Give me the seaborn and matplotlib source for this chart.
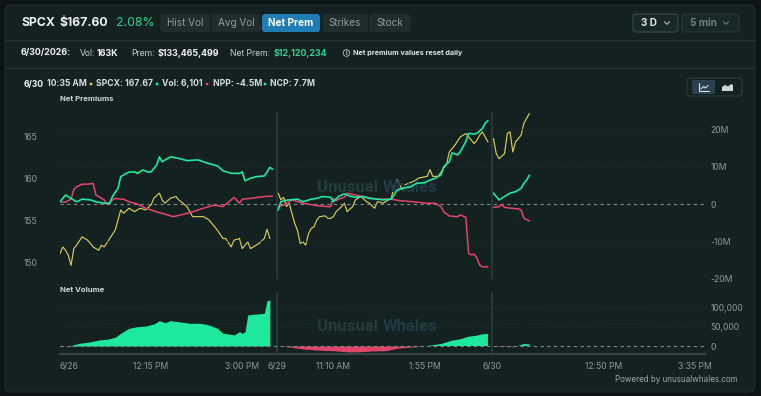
import numpy as np
import pandas as pd
import seaborn as sns
import matplotlib.pyplot as plt
from matplotlib.patches import FancyBboxPatch, Circle
from matplotlib.lines import Line2D
from matplotlib.transforms import IdentityTransform

W, H = 761, 396

# x = 5-minute bar index over the three sessions (6/26, 6/29, 6/30)
tick_pos = [0, 33, 66, 78.5, 99, 132, 156.5, 197, 230]
tick_labels = ["6/26", "12:15 PM", "3:00 PM", "6/29", "11:10 AM", "1:55 PM", "6/30", "12:50 PM", "3:35 PM"]
day_breaks = [78.5, 156.5]

# SPCX price (left axis)
price_x = [0, 1, 2, 3, 4, 5, 6, 8, 10, 12, 14, 15, 16, 18, 20, 22, 23, 25, 27, 29, 31, 33, 34, 36, 37, 38,
           40, 42, 43, 46, 48, 52, 54, 57, 59, 60, 62, 63, 65, 66, 68, 69, 72, 74, 75, 76,
           79, 80, 81, 82, 83, 84, 85, 86, 87, 88, 89, 90, 91, 92, 93, 94, 96, 97, 98, 99, 100, 102, 103,
           104, 106, 107, 109, 111, 112, 114, 115, 117, 118, 120, 121, 122, 124, 125, 128, 130, 133, 134,
           135, 137, 139, 140, 141, 143, 145, 147, 148, 150, 151, 152, 153, 154, 155,
           157, 158, 159, 161, 162, 163, 164, 165, 167, 168, 169, 170]
price = [151.0, 151.8, 151.4, 150.8, 149.6, 151.6, 152.0, 153.0, 152.6, 151.8, 151.4, 152.0, 151.8, 152.8,
         153.8, 156.2, 155.8, 156.4, 156.0, 156.4, 156.2, 156.8, 157.6, 158.2, 157.4, 157.0, 157.6, 157.8,
         157.4, 156.6, 155.4, 155.4, 155.0, 153.8, 152.8, 152.8, 151.8, 152.6, 152.8, 151.6, 152.4, 151.6,
         152.2, 152.8, 153.9, 152.8,
         158.2, 157.4, 157.7, 156.6, 157.0, 155.8, 154.6, 153.8, 152.2, 152.4, 152.0, 153.4, 154.0, 154.2,
         155.0, 155.4, 155.5, 155.2, 155.2, 155.4, 156.0, 156.6, 157.0, 156.0, 156.6, 157.4, 157.8, 157.2,
         157.0, 156.4, 157.2, 157.0, 157.2, 157.6, 159.0, 159.8, 158.6, 159.2, 159.6, 160.0, 160.2, 161.0,
         160.2, 160.2, 161.2, 161.6, 163.1, 163.9, 164.9, 165.3, 164.9, 164.1, 164.5, 165.1, 165.5, 164.9,
         164.3,
         164.7, 162.9, 162.3, 162.9, 165.3, 165.5, 163.1, 164.3, 165.1, 166.5, 167.1, 167.7]

# net call premium, $M (right axis)
ncp_x = [0, 2, 4, 6, 8, 11, 13, 16, 18, 19, 21, 22, 24, 25, 27, 28, 30, 32, 33, 35, 36, 37, 39, 40, 43, 46,
         50, 53, 57, 59, 62, 65, 66, 67, 69, 71, 74, 75, 76, 77,
         79, 80, 81, 83, 86, 88, 91, 93, 95, 98, 99, 101, 103, 105, 107, 110, 112, 115, 117, 120, 121, 122,
         124, 127, 129, 132, 134, 136, 138, 139, 141, 142, 144, 145, 147, 148, 150, 151, 153, 154, 155,
         157, 158, 159, 161, 163, 165, 167, 168, 169, 170]
ncp = [0.6, 2.4, 1.5, 0.6, 1.3, 1.1, 0.6, 0.2, 0.2, 2.0, 4.2, 7.3, 8.2, 8.5, 8.6, 8.2, 9.1, 8.5, 8.6, 10.4,
       12.6, 11.3, 12.2, 12.6, 12.2, 11.6, 11.8, 11.0, 10.2, 8.9, 8.2, 8.2, 8.6, 6.2, 6.9, 7.3, 7.5, 8.6, 9.8, 9.3,
       -1.6, 0.6, 0.9, 1.1, 1.3, 0.6, 1.3, 1.5, 2.0, 1.8, 0.6, 2.1, 2.7, 2.1, 1.8, 2.0, 1.5, 1.3, 1.1, 1.3,
       2.4, 3.7, 4.2, 4.6, 5.5, 5.7, 6.4, 6.9, 7.8, 10.0, 11.3, 13.7, 13.1, 14.0, 16.7, 18.9, 18.7, 18.9,
       20.2, 21.6, 22.3,
       2.9, 2.0, 1.1, 2.0, 2.9, 3.3, 4.2, 5.5, 6.4, 7.7]

# net put premium, $M (right axis)
npp_x = [0, 2, 4, 5, 6, 8, 10, 12, 13, 14, 16, 17, 19, 20, 22, 23, 25, 28, 31, 35, 38, 41, 45, 48, 52, 56,
         59, 62, 63, 65, 66, 69, 72, 74, 77,
         79, 81, 84, 88, 92, 94, 97, 98, 99, 100, 101, 103, 104, 107, 111, 115, 120, 123, 128, 133, 136, 138,
         139, 141, 144, 145, 147, 148, 149, 150, 151, 152, 153, 155,
         157, 159, 160, 161, 163, 166, 167, 168, 170]
npp = [0.6, 0.5, 1.3, 3.9, 4.6, 5.3, 5.3, 5.5, 2.4, 2.0, 1.1, -0.1, 1.1, 1.5, 1.3, 1.3, 0.6, 0.0, -1.1, -2.1,
       -2.7, -3.4, -2.7, -2.1, -1.1, -0.3, -0.7, 1.1, 1.8, 0.2, 1.3, 1.5, 1.8, 2.0, 2.1,
       -0.7, -0.3, 1.1, 0.2, -0.3, -0.5, -0.7, -0.7, 1.5, 0.9, 1.3, 1.8, 2.9, 2.4, 1.8, 1.3, 1.3, 0.9, 0.6,
       0.2, 0.2, -0.7, -2.1, -3.2, -3.4, -2.9, -3.6, -13.2, -13.6, -13.4, -14.5, -16.3, -16.8, -16.8,
       -0.9, -0.7, -0.1, -0.9, -1.1, -1.3, -1.6, -3.8, -4.5]

# net volume, thousands of contracts
vol_x = [0, 2, 4, 7, 10, 13, 14, 17, 20, 22, 25, 28, 31, 34, 36, 38, 40, 43, 47, 51, 54, 57, 59, 62, 63,
         65, 66, 67, 68, 70, 74, 75, 76,
         80, 84, 88, 93, 99, 105, 109, 113, 118, 122, 126, 129, 133, 138, 142, 145, 148, 151, 153, 155,
         157, 159, 161, 164, 166, 168, 170]
vol = [-2, 0, 1, 6.9, 9.5, 13.6, 15.4, 17.2, 22.3, 32.6, 45.4, 49.5, 51.3, 56.4, 64.9, 59.7, 64.9, 62.3,
       58.2, 58.2, 53.8, 45.4, 32.6, 30.0, 28.2, 36.7, 32.6, 36.7, 79.5, 81.3, 83.8, 116.2, 118.0,
       0, -3.3, -7.7, -10.3, -12.1, -15.4, -14.6, -12.8, -12.1, -5.9, -3.3, -1.8, 0, 5.1, 13.6, 17.2,
       23.8, 26.4, 30.0, 30.8,
       0, -1.3, -1.0, -1.8, 0, 5.1, 4.4]

BG = "#0b1515"
CARD = "#132221"
GRID = "#1d2f2f"
AXTXT = "#8a9999"
GREEN = "#1fe8a0"
RED = "#e6436b"
YELLOW = "#e3d35c"
VGREEN = "#1ee89c"
VRED = "#e0446b"

sns.set_style("dark")
plt.rcParams["font.family"] = ["Inter", "DejaVu Sans"]

fig = plt.figure(figsize=(W / 100, H / 100), dpi=100, facecolor=BG)


def fx(px):
    return px / W


def fy(py):
    return 1 - py / H


def box(x0, y0, x1, y1, fc, ec="none", r=4, lw=0.8, z=-1):
    p = FancyBboxPatch((x0, H - y1), x1 - x0, y1 - y0, boxstyle=f"round,pad=0,rounding_size={r}",
                       fc=fc, ec=ec, lw=lw, transform=IdentityTransform(), zorder=z)
    fig.patches.append(p)


def hline(x0, x1, y, color="#243434", lw=0.8):
    fig.lines.append(Line2D([fx(x0), fx(x1)], [fy(y), fy(y)], color=color, lw=lw, transform=fig.transFigure))


def txt(x, y, s, size, color="#e6ecec", weight="normal", ha="left"):
    return fig.text(fx(x), fy(y), s, fontsize=size, color=color, fontweight=weight, ha=ha, va="center")


def chevron(x, y, color):
    fig.lines.append(Line2D([fx(x - 2.5), fx(x), fx(x + 2.5)], [fy(y - 1.2), fy(y + 1.3), fy(y - 1.2)],
                            color=color, lw=0.8, transform=fig.transFigure))


def dot(x, y, color, r=1.4):
    fig.patches.append(Circle((x, H - y), r, fc=color, ec="none", transform=IdentityTransform()))


# card
box(5, 5, 755, 392, CARD, ec="#1c2c2c", r=6, z=-2)

# header
txt(21, 23, "SPCX", 8.8, "#eef3f3", "bold")
txt(60, 23, "$167.60", 8.8, "#eef3f3", "bold")
txt(116, 23, "2.08%", 8.8, "#2fcf95")
tabs = [("Hist Vol", 160, 210), ("Avg Vol", 211, 261), ("Net Prem", 262, 320), ("Strikes", 322, 368), ("Stock", 369, 411)]
for name, a, b in tabs:
    active = name == "Net Prem"
    box(a, 14, b, 32, "#1f7db3" if active else "#1e2c2d", r=3)
    txt((a + b) / 2, 23, name, 7.2, "#ffffff" if active else "#8c9b9b", "bold" if active else "normal", ha="center")
box(633, 14, 678, 32, "#182727", ec="#3a4a4a", r=3)
txt(641, 23, "3 D", 7.2, "#dfe6e6", "bold")
chevron(667, 23, "#b0bcbc")
box(682, 14, 739, 32, "#182727", ec="#2a3838", r=3)
txt(690, 23, "5 min", 7.2, "#6f7f7f", "bold")
chevron(726, 23, "#6f7f7f")
hline(5, 755, 40)

txt(21, 53, "6/30/2026:", 6.4, "#eef3f3", "bold")
txt(80, 53, "Vol:", 6.2, "#c4cdcd")
txt(97, 53, "163K", 6.4, "#eef3f3", "bold")
txt(131, 53, "Prem:", 6.2, "#c4cdcd")
txt(158, 53, "$133,465,499", 6.4, "#eef3f3", "bold")
txt(230, 53, "Net Prem:", 6.2, "#c4cdcd")
txt(274, 53, "$12,120,234", 6.4, "#2fcf95", "bold")
fig.patches.append(Circle((346.5, H - 53), 3.3, fc="none", ec="#b8c4c4", lw=0.6, transform=IdentityTransform()))
txt(346.5, 53.3, "i", 4.5, "#b8c4c4", "bold", ha="center")
txt(353, 52.5, "Net premium values reset daily", 5.2, "#dfe6e6", "bold")
hline(5, 755, 68)

# hover row
txt(24, 84, "6/30", 6.2, "#f2f6f6", "bold")
txt(47, 84, "10:35 AM", 6.2, "#d6dddd", "bold")
dot(91, 84, YELLOW)
txt(96, 84, "SPCX: 167.67", 6.2, "#d6dddd", "bold")
dot(157, 84, GREEN)
txt(162, 84, "Vol: 6,101", 6.2, "#d6dddd", "bold")
dot(207, 84, RED)
txt(213, 84, "NPP: -4.5M", 6.2, "#d6dddd", "bold")
dot(265, 84, GREEN)
txt(270, 84, "NCP: 7.7M", 6.2, "#d6dddd", "bold")

# chart type toggle
box(687, 78, 742, 96, "none", ec="#2c3c3c", r=3)
box(692, 80, 715, 94, "#2c4150", r=2)
fig.lines.append(Line2D([699, 699, 709], [H - 83, H - 91, H - 91], color="#d8e0e0", lw=0.8, transform=IdentityTransform()))
fig.lines.append(Line2D([701, 703.5, 705.5, 708], [H - 89, H - 86.5, H - 88, H - 85.5], color="#d8e0e0", lw=0.8, transform=IdentityTransform()))
fig.patches.append(plt.Polygon([(722, H - 91), (722, H - 87), (725, H - 85), (728, H - 86.5), (731, H - 84), (733, H - 85), (733, H - 91)],
                               closed=True, fc="#cdd6d6", ec="none", transform=IdentityTransform()))

txt(60, 99, "Net Premiums", 5.6, "#cfd8d8", "bold")
txt(60, 290, "Net Volume", 5.6, "#cfd8d8", "bold")
txt(738, 380, "Powered by unusualwhales.com", 5.8, "#9aa8a8", ha="right")


def day_of(x):
    return np.searchsorted(day_breaks, x)


df_p = pd.DataFrame({"x": price_x, "v": price})
df_p["day"] = day_of(df_p["x"])
df_c = pd.DataFrame({"x": ncp_x, "v": ncp})
df_c["day"] = day_of(df_c["x"])
df_n = pd.DataFrame({"x": npp_x, "v": npp})
df_n["day"] = day_of(df_n["x"])
df_v = pd.DataFrame({"x": vol_x, "v": vol})
df_v["day"] = day_of(df_v["x"])

X0, X1 = 0, (705 - 60) / 2.761

# top panel: price (left) + premiums (right)
ax_p = fig.add_axes([fx(60), fy(279), fx(705) - fx(60), fy(112) - fy(279)])
ax_m = ax_p.twinx()
for a in (ax_p, ax_m):
    a.set_facecolor("none")
    a.grid(False)
    for s in a.spines.values():
        s.set_visible(False)

for v in [-20, -10, 10, 20]:
    ax_m.axhline(v, color=GRID, lw=0.6, ls=(0, (3, 3)), zorder=0)
ax_m.axhline(0, color="#7b8a8a", lw=0.8, ls=(0, (3, 3)), zorder=1)
for b in day_breaks:
    ax_m.axvline(b, color="#2a3a3b", lw=1.3, zorder=0)
ax_m.text(0.5, 0.55, "Unusual ", transform=ax_m.transAxes, ha="right", va="center", fontsize=12,
          fontweight="bold", color="#253b3b", family=["Roboto", "DejaVu Sans"], zorder=0)
ax_m.text(0.5, 0.55, "Whales", transform=ax_m.transAxes, ha="left", va="center", fontsize=12,
          fontweight="bold", color="#203a43", family=["Roboto", "DejaVu Sans"], zorder=0)

sns.lineplot(data=df_p, x="x", y="v", units="day", estimator=None, color=YELLOW, lw=0.8, ax=ax_p, legend=False)
sns.lineplot(data=df_n, x="x", y="v", units="day", estimator=None, color=RED, lw=1.1, ax=ax_m, legend=False)
sns.lineplot(data=df_c, x="x", y="v", units="day", estimator=None, color=GREEN, lw=1.2, ax=ax_m, legend=False)

ax_p.set_xlim(X0, X1)
ax_m.set_xlim(X0, X1)
ax_p.set_ylim(147.98, 167.86)
ax_m.set_ylim(-20.05, 24.6)
ax_p.set_yticks([150, 155, 160, 165])
ax_p.set_yticklabels(["150", "155", "160", "165"])
ax_m.set_yticks([-20, -10, 0, 10, 20])
ax_m.set_yticklabels(["-20M", "-10M", "0", "10M", "20M"])
ax_p.tick_params(axis="y", length=0, pad=16, labelsize=6.2, labelcolor=AXTXT)
ax_m.tick_params(axis="y", length=0, pad=4, labelsize=6.2, labelcolor=AXTXT)
ax_p.set_xticks([])
ax_m.set_xticks([])
for a in (ax_p, ax_m):
    a.set_xlabel("")
    a.set_ylabel("")

# bottom panel: net volume
ax_v = fig.add_axes([fx(60), fy(353.5), fx(705) - fx(60), fy(293) - fy(353.5)])
ax_v.set_facecolor("none")
ax_v.grid(False)
for k, s in ax_v.spines.items():
    s.set_visible(k == "bottom")
ax_v.spines["bottom"].set_color("#334243")
ax_v.spines["bottom"].set_linewidth(1.6)
for v in [50, 100]:
    ax_v.axhline(v, color=GRID, lw=0.5, ls=(0, (3, 3)), zorder=0)
ax_v.axhline(0, color="#7b8a8a", lw=0.8, ls=(0, (3, 3)), zorder=3)
for b in day_breaks:
    ax_v.axvline(b, color="#2a3a3b", lw=1.3, zorder=0)
ax_v.text(0.5, 0.45, "Unusual ", transform=ax_v.transAxes, ha="right", va="center", fontsize=12,
          fontweight="bold", color="#253b3b", family=["Roboto", "DejaVu Sans"], zorder=0)
ax_v.text(0.5, 0.45, "Whales", transform=ax_v.transAxes, ha="left", va="center", fontsize=12,
          fontweight="bold", color="#203a43", family=["Roboto", "DejaVu Sans"], zorder=0)

for d, g in df_v.groupby("day"):
    xs = g["x"].to_numpy(float)
    ys = g["v"].to_numpy(float)
    ax_v.fill_between(xs, ys, 0, where=ys >= 0, interpolate=True, color=VGREEN, lw=0, zorder=2)
    ax_v.fill_between(xs, ys, 0, where=ys <= 0, interpolate=True, color=VRED, lw=0, zorder=2)

ax_v.set_xlim(X0, X1)
ax_v.set_ylim(-19.2, 135.9)
ax_v.yaxis.tick_right()
ax_v.set_yticks([0, 50, 100])
ax_v.set_yticklabels(["0", "50,000", "100,000"])
ax_v.tick_params(axis="y", length=0, pad=4, labelsize=6.2, labelcolor=AXTXT)
ax_v.set_xticks(tick_pos)
ax_v.set_xticklabels(tick_labels)
ax_v.tick_params(axis="x", length=3, width=0.8, color="#334243", pad=3, labelsize=6.2, labelcolor=AXTXT)
ax_v.get_xticklabels()[0].set_ha("left")

fig.savefig("out.png", dpi=100, facecolor=BG)
